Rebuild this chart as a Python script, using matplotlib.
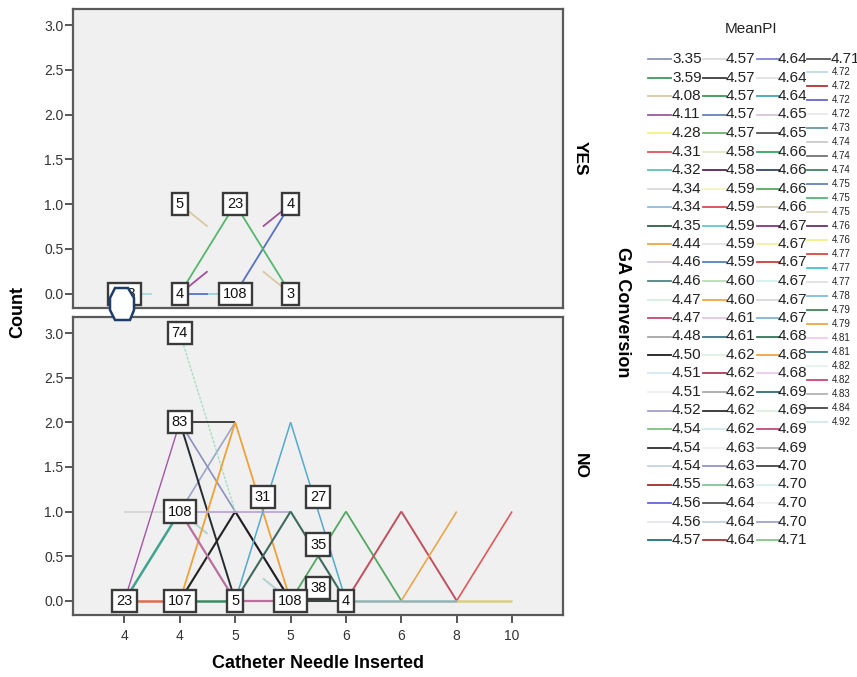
import matplotlib.pyplot as plt
from matplotlib.lines import Line2D
from matplotlib.patches import Polygon

plt.rcParams['font.family'] = ['Liberation Sans', 'DejaVu Sans']

N = None
categories = ["4", "4", "5", "5", "6", "6", "8", "10"]
y_ticks = [0.0, 0.5, 1.0, 1.5, 2.0, 2.5, 3.0]

# counts per category for each line, None = category not present for that line
yes_counts = [
    [N, 0, 0, 1, N, N, N, N],
    [0, N, 0, N, N, N, N, N],
    [N, 0, 1, 0, N, N, N, N],
    [N, 1, N, 0, N, N, N, N],
    [N, 0, N, 1, N, N, N, N],
]
yes_colors = ['#5672c4', '#a9d9e3', '#55b76e', '#d9c9a3', '#a04e9e']

no_counts = [
    [1, 1, N, N, N, N, N, N],
    [0, 2, N, N, N, N, N, N],
    [0, 1, N, N, N, N, N, N],
    [N, 1, 2, N, N, N, N, N],
    [N, 2, 1, 0, N, N, N, N],
    [N, 1, N, 0, N, N, N, N],
    [N, 3, 1, N, N, N, N, N],
    [N, 2, 2, N, N, N, N, N],
    [N, 2, 0, N, N, N, N, N],
    [N, 0, 2, 0, N, N, N, N],
    [N, 0, 1, 0, N, N, N, N],
    [N, 1, 1, 1, N, N, N, N],
    [N, 1, 0, 0, N, N, N, N],
    [N, N, 0, 2, 0, N, N, N],
    [N, N, 0, 1, 0, N, N, N],
    [N, N, N, 0, 1, 0, N, N],
    [N, N, N, N, 0, 1, 0, N],
    [N, N, N, N, N, 0, 1, N],
    [N, N, N, N, N, N, 0, 1],
    [N, N, N, 0, 0, N, N, N],
    [N, N, N, N, 0, 0, 0, N],
    [N, N, N, N, N, N, 0, 0],
    [0, 0, N, N, N, N, N, N],
    [N, 0, 0, N, N, N, N, N],
]
no_colors = ['#d4d4d4', '#a455a8', '#3fa48e', '#9aa6c8', '#8a8fc0', '#b5d3d3',
             '#a6dec4', '#333333', '#262c30', '#f0a038', '#222222', '#b9a6d9',
             '#b8709e', '#55a9cf', '#3f6a5e', '#52a862', '#c0505f', '#eaa64a',
             '#e2585a', '#3e4646', '#93b3b3', '#d8d07c', '#e06a50', '#3d8a62']
no_widths = [1.2, 1.0, 1.8, 1.2, 1.2, 1.5, 1.0, 1.3, 1.4, 1.3, 1.5, 1.3,
             1.6, 1.1, 1.5, 1.3, 1.4, 1.2, 1.2, 1.5, 1.8, 1.8, 1.8, 1.8]
no_styles = ['-'] * 6 + [(0, (2, 1))] + ['-'] * 17

yes_labels = [("108", 0, 0), ("5", 1, 1), ("4", 1, 0), ("23", 2, 1),
              ("108", 2, 0), ("4", 3, 1), ("3", 3, 0)]
no_labels = [("74", 1, 3), ("83", 1, 2), ("108", 1, 1), ("23", 0, 0),
             ("107", 1, 0), ("5", 2, 0), ("31", 3, 1), ("27", 4, 1),
             ("35", 4, 1), ("38", 4, 0), ("108", 3, 0), ("4", 4, 0)]
# nudges for labels SPSS moved away from their point
no_label_shift = {6: (-0.5, 0.16), 7: (-0.5, 0.16), 8: (-0.5, -0.37), 9: (-0.5, 0.14)}

meanpi = [3.35, 3.59, 4.08, 4.11, 4.28, 4.31, 4.32, 4.34, 4.34, 4.35, 4.44, 4.46, 4.46, 4.47,
          4.47, 4.48, 4.50, 4.51, 4.51, 4.52, 4.54, 4.54, 4.54, 4.55, 4.56, 4.56, 4.57,
          4.57, 4.57, 4.57, 4.57, 4.57, 4.58, 4.58, 4.59, 4.59, 4.59, 4.59, 4.59, 4.60, 4.60,
          4.61, 4.61, 4.62, 4.62, 4.62, 4.62, 4.62, 4.63, 4.63, 4.63, 4.64, 4.64, 4.64,
          4.64, 4.64, 4.64, 4.65, 4.65, 4.66, 4.66, 4.66, 4.66, 4.67, 4.67, 4.67, 4.67, 4.67,
          4.67, 4.68, 4.68, 4.68, 4.69, 4.69, 4.69, 4.69, 4.70, 4.70, 4.70, 4.70, 4.71,
          4.71, 4.72, 4.72, 4.72, 4.72, 4.73, 4.74, 4.74, 4.74, 4.75, 4.75, 4.75, 4.76, 4.76,
          4.77, 4.77, 4.77, 4.78, 4.79, 4.79, 4.81, 4.81, 4.82, 4.82, 4.83, 4.84, 4.92]
legend_colors = [
    '#8c96bd', '#3f9a5c', '#d9c9a3', '#9c5a9c', '#f2f27a', '#e0555a', '#5cc2b4', '#d9d9d9', '#8cbde0',
    '#2f5e4a', '#f0a543', '#d6c8e3', '#4f8585', '#d5efe0', '#c24a6e', '#a6a6a6', '#1c1c1c', '#d2e8ef',
    '#f0f0f0', '#a59fcc', '#7cc27c', '#2e2e2e', '#c6d3e3', '#a32a2a', '#6366d4', '#e6e6ee', '#21707f',
    '#dcdcdc', '#3d3d3d', '#3a9457', '#6683b5', '#6bb06b', '#e3e9c3', '#552655', '#f5f3c0', '#e04848',
    '#63c6d2', '#e3e3e3', '#5580c2', '#b9dcb9', '#f0a543', '#e5c5e5', '#3f6f80', '#def0e2', '#b43a5a',
    '#a8a8a8', '#2e2e2e', '#d3ecec', '#f0f0f0', '#9494c6', '#86c596', '#555555', '#c3d1e2', '#a33434',
    '#8484d4', '#e0e0e0', '#45a3b4', '#d5c6da', '#545454', '#35a263', '#34455f', '#58a866', '#d9d2b5',
    '#833583', '#f5efa6', '#d23a3a', '#d3f0f0', '#d9d9d9', '#84b3da', '#367556', '#f0a543', '#e8cbe8',
    '#35697a', '#dbf0e1', '#c2487a', '#b3b3b3', '#434343', '#d3f0f0', '#f0f0f0', '#a3a3d4', '#86c486',
    '#555555', '#c3d9e8', '#b33434', '#6666d2', '#e8e8f0', '#6794ab', '#cacaca', '#747474', '#438463',
    '#6585b3', '#55b374', '#dadac3', '#633563', '#f5ef86', '#e04444', '#45c3d3', '#e0e0e0', '#84bbe0',
    '#438456', '#f0a543', '#f0cbf0', '#43798a', '#e2f4ea', '#d24474', '#b3b3b3', '#434343', '#d3e8f0',
]

W, H = 857, 677
fig = plt.figure(figsize=(W / 100, H / 100), dpi=100)


def fx(x):
    return x / W


def fy(y):
    return 1 - y / H


def draw_line(ax, counts, color, lw, ls):
    pts = [(i, v) for i, v in enumerate(counts) if v is not None]
    for (x0, y0), (x1, y1) in zip(pts[:-1], pts[1:]):
        if x1 - x0 > 1:
            # lines jumping an empty category only show their ends
            parts = [(0, 0.25), (0.75, 1)]
        else:
            parts = [(0, 1)]
        for t0, t1 in parts:
            ax.plot([x0 + (x1 - x0) * t0, x0 + (x1 - x0) * t1],
                    [y0 + (y1 - y0) * t0, y0 + (y1 - y0) * t1],
                    color=color, lw=lw, ls=ls, solid_capstyle='butt', zorder=2)


def label(ax, txt, x, y):
    ax.text(x, y, txt, ha='center', va='center', fontsize=10.5, color='#111111', zorder=5,
            bbox=dict(boxstyle='square,pad=0.28', fc='white', ec='#3a3a3a', lw=1.7))


def style_panel(ax):
    ax.set_facecolor('#f0f0f0')
    ax.set_xlim(-0.93, 7.92)
    ax.set_ylim(-0.16, 3.18)
    ax.set_xticks(range(len(categories)))
    ax.set_yticks(y_ticks)
    ax.set_yticklabels([f'{t:.1f}' for t in y_ticks])
    for s in ax.spines.values():
        s.set_color('#5a5a5a')
        s.set_linewidth(1.6)
    ax.tick_params(axis='y', length=6, width=1.2, color='#3a3a3a', pad=1,
                   labelsize=10, labelcolor='#333333')


ax_yes = fig.add_axes([fx(73), fy(308), fx(563) - fx(73), fy(9) - fy(308)])
ax_no = fig.add_axes([fx(73), fy(615), fx(563) - fx(73), fy(317) - fy(615)])
style_panel(ax_yes)
style_panel(ax_no)
ax_yes.tick_params(axis='x', length=0, labelbottom=False)
ax_no.set_xticklabels(categories)
ax_no.tick_params(axis='x', length=6, width=1.2, color='#3a3a3a', pad=4,
                  labelsize=10, labelcolor='#333333')

for counts, c in zip(yes_counts, yes_colors):
    draw_line(ax_yes, counts, c, 1.3, '-')
for counts, c, lw, ls in zip(no_counts, no_colors, no_widths, no_styles):
    draw_line(ax_no, counts, c, lw, ls)

for txt, x, y in yes_labels:
    label(ax_yes, txt, x, y)
for i, (txt, x, y) in enumerate(no_labels):
    dx, dy = no_label_shift.get(i, (0, 0))
    label(ax_no, txt, x + dx, y + dy)

fig.text(fx(18), fy(312), 'Count', rotation=90, ha='center', va='center',
         fontsize=13, fontweight='bold')
fig.text(fx(318), fy(663), 'Catheter Needle Inserted', ha='center', va='center',
         fontsize=13, fontweight='bold')
fig.text(fx(580), fy(158), 'YES', rotation=270, ha='center', va='center',
         fontsize=12.5, fontweight='bold')
fig.text(fx(580), fy(466), 'NO', rotation=270, ha='center', va='center',
         fontsize=12.5, fontweight='bold')
fig.text(fx(622), fy(312), 'GA Conversion', rotation=270, ha='center', va='center',
         fontsize=13, fontweight='bold')

# stray marker sitting over the first label in the screenshot
hexagon = [(115, 288), (128, 288), (134, 298), (134, 310), (130, 320),
           (115, 320), (110, 310), (110, 298)]
fig.patches.append(Polygon([(fx(x), fy(y)) for x, y in hexagon], closed=True,
                           transform=fig.transFigure, fc='white', ec='#1f3d6b',
                           lw=1.8, zorder=10))

# legend
fig.text(fx(751), fy(29), 'MeanPI', ha='center', va='center', fontsize=11, color='#222222')
line_x = [648, 703, 757, 807]
text_x = [672, 726, 778, 831]
for i, (v, c) in enumerate(zip(meanpi, legend_colors)):
    col, row = divmod(i, 27)
    if col < 3 or row == 0:
        y = 59 + 18.5 * row
        size, lx1 = 11, line_x[col] + 23
    else:
        y = 72 + 14.0 * (row - 1)
        size, lx1 = 7, line_x[col] + 20
    fig.lines.append(Line2D([fx(line_x[col]), fx(lx1)], [fy(y), fy(y)],
                            transform=fig.transFigure, color=c, lw=1.3))
    fig.text(fx(text_x[col] + (1 if size == 7 else 0)), fy(y), f'{v:.2f}', ha='left', va='center',
             fontsize=size, color='#222222')

fig.savefig('out.png', dpi=100)
